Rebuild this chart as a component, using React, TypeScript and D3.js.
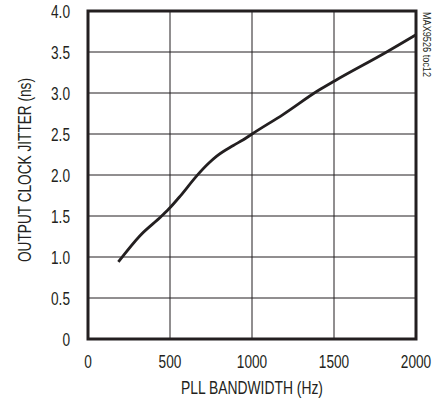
import * as d3 from "d3";

// PLL bandwidth (Hz) and output clock jitter (ns)
const bandwidth = [185, 317, 449, 504, 561, 663, 734, 785, 886, 947, 1000, 1191, 1404, 1506, 1821, 2000];
const jitter = [0.94, 1.26, 1.5, 1.61, 1.74, 1.99, 2.14, 2.23, 2.36, 2.43, 2.5, 2.74, 3.03, 3.15, 3.5, 3.71];

const xTicks = [0, 500, 1000, 1500, 2000];
const yTicks = [0, 0.5, 1, 1.5, 2, 2.5, 3, 3.5, 4];

const WIDTH = 439;
const HEIGHT = 400;
const INK = "#231f20";
const FONT = "'Liberation Sans', Arial, sans-serif";
const SQUEEZE = 0.78; // the original uses a condensed face

export default function App() {
  const left = 88;
  const right = 416;
  const top = 11;
  const bottom = 339;

  const x = d3.scaleLinear().domain([0, 2000]).range([left, right]);
  const y = d3.scaleLinear().domain([0, 4]).range([bottom, top]);

  const points = bandwidth.map((b, i) => [b, jitter[i]] as [number, number]);
  const line = d3
    .line<[number, number]>()
    .x((d) => x(d[0]))
    .y((d) => y(d[1]))
    .curve(d3.curveMonotoneX);

  const yFmt = (v: number) => (v === 0 ? "0" : v.toFixed(1));

  return (
    <svg
      width={WIDTH}
      height={HEIGHT}
      style={{ position: "absolute", left: 0, top: 0, background: "#fff" }}
      fontFamily={FONT}
    >
      {/* grid */}
      {xTicks.slice(1, -1).map((t) => (
        <line key={"gx" + t} x1={x(t)} x2={x(t)} y1={top} y2={bottom} stroke={INK} strokeWidth={1} />
      ))}
      {yTicks.slice(1, -1).map((t) => (
        <line key={"gy" + t} x1={left} x2={right} y1={y(t)} y2={y(t)} stroke={INK} strokeWidth={1} />
      ))}

      {/* frame */}
      <rect x={left} y={top} width={right - left} height={bottom - top} fill="none" stroke={INK} strokeWidth={3} />

      {/* curve */}
      <path d={line(points) ?? ""} fill="none" stroke={INK} strokeWidth={2.8} strokeLinejoin="round" />

      {/* y tick labels */}
      {yTicks.map((t) => (
        <text
          key={"ty" + t}
          transform={`translate(70, ${y(t) + 7}) scale(${SQUEEZE}, 1)`}
          textAnchor="end"
          fontSize={17.5}
          fill={INK}
        >
          {yFmt(t)}
        </text>
      ))}

      {/* x tick labels */}
      {xTicks.map((t) => (
        <text
          key={"tx" + t}
          transform={`translate(${x(t)}, 368) scale(${SQUEEZE}, 1)`}
          textAnchor="middle"
          fontSize={17.5}
          fill={INK}
        >
          {t}
        </text>
      ))}

      {/* axis titles */}
      <text
        x={(left + right) / 2}
        y={394}
        textAnchor="middle"
        fontSize={17.5}
        fill={INK}
        textLength={142}
        lengthAdjust="spacingAndGlyphs"
      >
        PLL BANDWIDTH (Hz)
      </text>
      <text
        transform={`translate(31, 170) rotate(-90)`}
        textAnchor="middle"
        fontSize={17.5}
        fill={INK}
        textLength={184}
        lengthAdjust="spacingAndGlyphs"
      >
        OUTPUT CLOCK JITTER (ns)
      </text>

      {/* figure id */}
      <text
        transform="translate(423, 12) rotate(90)"
        textAnchor="start"
        fontSize={11}
        fill={INK}
        textLength={65}
        lengthAdjust="spacingAndGlyphs"
      >
        MAX9526 toc12
      </text>
    </svg>
  );
}
